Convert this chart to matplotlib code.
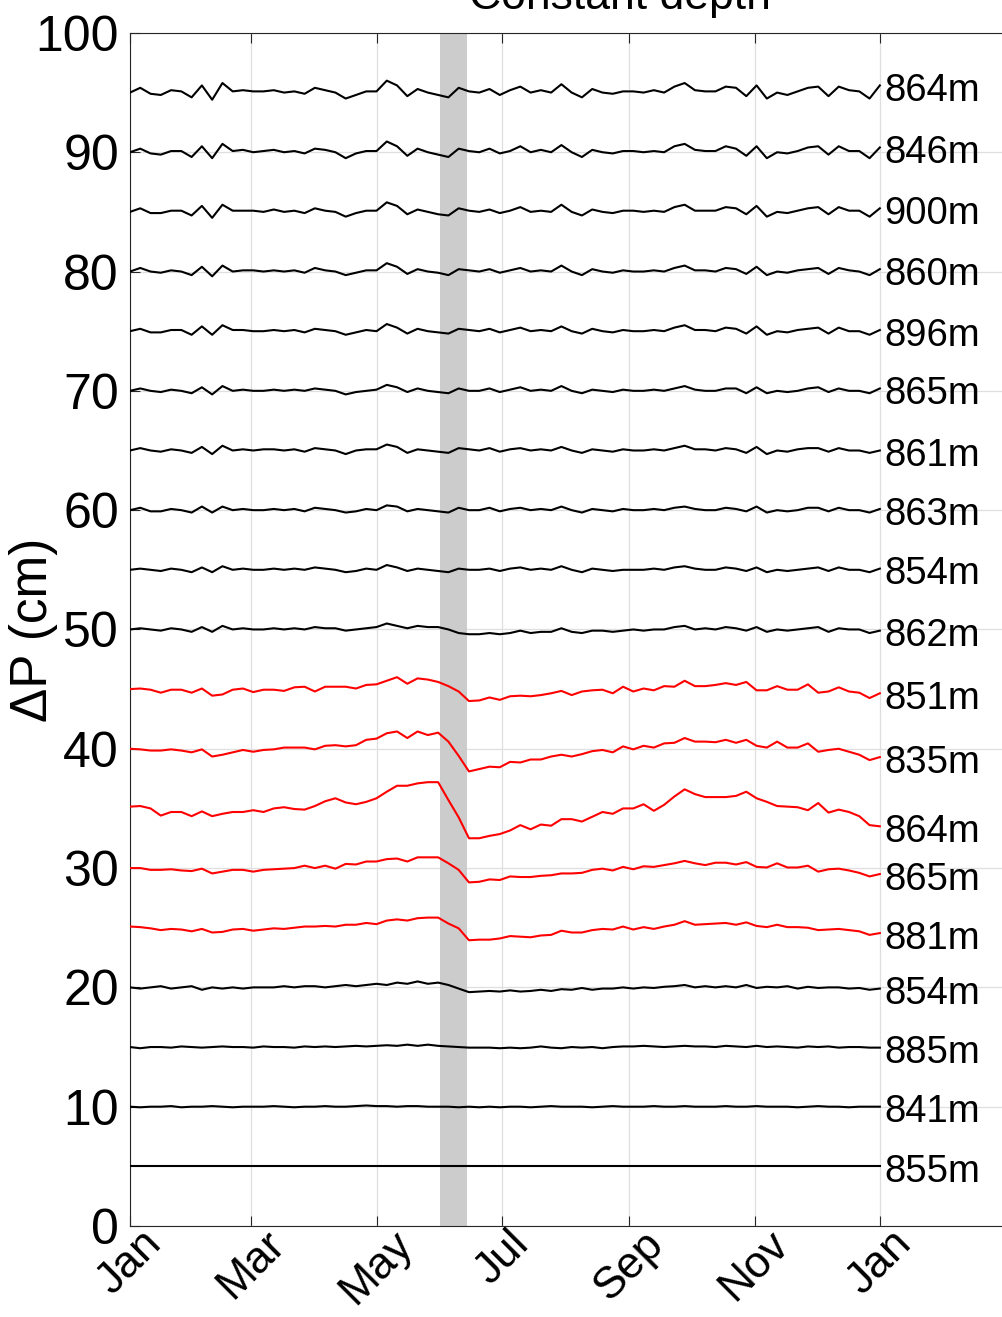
import numpy as np
import matplotlib
matplotlib.use("Agg")
import matplotlib.pyplot as plt
import matplotlib.dates as mdates

plt.rcParams['font.family'] = ['Liberation Sans', 'DejaVu Sans']

# 5-day samples through the year
start = np.datetime64('2015-01-01')
dates = start + np.arange(0, 366, 5)
x_end = start + 477
event_start = np.datetime64('2015-06-01')
event_end = np.datetime64('2015-06-14')

month_ticks = np.array(['2015-01-01', '2015-03-01', '2015-05-01', '2015-07-01',
                        '2015-09-01', '2015-11-01', '2016-01-01'], dtype='datetime64[D]')

# pressure anomaly (cm) for each gauge, before the stacking offset
p864_a = [0.0, 0.4, -0.1, -0.2, 0.2, 0.1, -0.4, 0.6, -0.6, 0.8,
          0.1, 0.2, 0.1, 0.1, 0.2, 0.0, 0.1, -0.1, 0.4, 0.2,
          0.0, -0.5, -0.2, 0.1, 0.1, 1.0, 0.6, -0.3, 0.3, 0.0,
          -0.2, -0.4, 0.4, 0.1, 0.0, 0.3, -0.2, 0.2, 0.5, 0.0,
          0.2, 0.0, 0.7, 0.0, -0.4, 0.3, 0.0, -0.1, 0.1, 0.1,
          0.0, 0.2, 0.0, 0.5, 0.8, 0.2, 0.1, 0.1, 0.5, 0.4,
          -0.3, 0.6, -0.5, 0.0, -0.2, 0.1, 0.4, 0.5, -0.3, 0.5,
          0.2, 0.1, -0.5, 0.6]
p846 = [0.0, 0.3, -0.1, -0.2, 0.1, 0.1, -0.4, 0.5, -0.5, 0.7,
        0.1, 0.2, 0.0, 0.1, 0.2, 0.0, 0.1, -0.1, 0.3, 0.2,
        0.0, -0.5, -0.1, 0.1, 0.1, 0.9, 0.5, -0.3, 0.3, 0.0,
        -0.2, -0.4, 0.3, 0.1, 0.0, 0.3, -0.1, 0.1, 0.5, 0.0,
        0.2, 0.0, 0.6, 0.0, -0.4, 0.2, 0.0, -0.1, 0.1, 0.1,
        0.0, 0.1, 0.0, 0.5, 0.7, 0.2, 0.1, 0.1, 0.5, 0.3,
        -0.3, 0.5, -0.5, 0.0, -0.1, 0.1, 0.4, 0.5, -0.2, 0.5,
        0.1, 0.1, -0.5, 0.4]
p900 = [0.0, 0.3, -0.1, -0.1, 0.1, 0.1, -0.3, 0.5, -0.5, 0.6,
        0.1, 0.1, 0.1, 0.0, 0.2, 0.0, 0.1, -0.1, 0.3, 0.1,
        0.0, -0.4, -0.1, 0.1, 0.1, 0.8, 0.5, -0.2, 0.2, 0.0,
        -0.2, -0.3, 0.3, 0.1, 0.0, 0.2, -0.1, 0.1, 0.4, 0.0,
        0.1, 0.0, 0.6, 0.0, -0.3, 0.2, 0.0, -0.1, 0.1, 0.1,
        0.0, 0.1, 0.0, 0.4, 0.6, 0.1, 0.1, 0.1, 0.4, 0.3,
        -0.2, 0.5, -0.4, 0.0, -0.1, 0.1, 0.3, 0.4, -0.2, 0.4,
        0.1, 0.1, -0.4, 0.3]
p860 = [0.0, 0.3, 0.0, -0.1, 0.1, 0.0, -0.3, 0.4, -0.4, 0.5,
        0.0, 0.1, 0.1, 0.0, 0.1, 0.0, 0.1, -0.1, 0.3, 0.1,
        0.0, -0.3, -0.1, 0.1, 0.1, 0.7, 0.4, -0.2, 0.2, 0.0,
        -0.1, -0.3, 0.2, 0.1, 0.0, 0.2, -0.1, 0.1, 0.3, 0.0,
        0.1, 0.0, 0.5, 0.0, -0.3, 0.2, 0.0, -0.1, 0.1, 0.0,
        0.0, 0.1, 0.0, 0.3, 0.5, 0.1, 0.1, 0.0, 0.3, 0.2,
        -0.2, 0.4, -0.3, 0.0, -0.1, 0.1, 0.2, 0.3, -0.2, 0.3,
        0.1, 0.0, -0.3, 0.2]
p896 = [0.0, 0.2, -0.1, -0.1, 0.1, 0.1, -0.3, 0.4, -0.3, 0.5,
        0.1, 0.1, 0.0, 0.0, 0.1, 0.0, 0.1, -0.1, 0.2, 0.1,
        0.0, -0.3, -0.1, 0.1, 0.0, 0.6, 0.3, -0.2, 0.2, 0.0,
        -0.1, -0.2, 0.2, 0.1, 0.0, 0.2, -0.1, 0.1, 0.3, 0.0,
        0.1, 0.0, 0.4, 0.0, -0.2, 0.2, 0.0, -0.1, 0.1, 0.0,
        0.0, 0.1, 0.0, 0.3, 0.5, 0.1, 0.1, 0.0, 0.3, 0.2,
        -0.2, 0.4, -0.3, 0.0, -0.1, 0.1, 0.2, 0.3, -0.2, 0.3,
        0.0, 0.0, -0.3, 0.1]
p865_a = [0.0, 0.2, 0.0, -0.1, 0.1, 0.0, -0.2, 0.3, -0.3, 0.4,
          0.0, 0.1, 0.0, 0.0, 0.1, 0.0, 0.1, 0.0, 0.2, 0.1,
          0.0, -0.3, -0.1, 0.0, 0.1, 0.5, 0.3, -0.1, 0.2, 0.0,
          -0.1, -0.2, 0.2, 0.0, 0.0, 0.2, -0.1, 0.1, 0.3, 0.0,
          0.1, 0.0, 0.4, 0.0, -0.2, 0.1, 0.0, -0.1, 0.1, 0.0,
          0.0, 0.1, 0.0, 0.2, 0.4, 0.1, 0.0, 0.0, 0.2, 0.2,
          -0.2, 0.3, -0.2, 0.0, -0.1, 0.0, 0.2, 0.3, -0.1, 0.2,
          0.0, 0.0, -0.2, 0.2]
p861 = [0.0, 0.2, 0.0, -0.1, 0.1, 0.0, -0.2, 0.3, -0.3, 0.4,
        0.0, 0.1, 0.0, 0.1, 0.1, 0.0, 0.1, -0.1, 0.2, 0.1,
        0.0, -0.3, 0.0, 0.1, 0.1, 0.5, 0.3, -0.2, 0.1, 0.0,
        -0.1, -0.2, 0.2, 0.1, 0.0, 0.2, -0.1, 0.1, 0.2, 0.0,
        0.1, 0.0, 0.3, 0.0, -0.2, 0.1, 0.0, -0.1, 0.1, 0.0,
        0.0, 0.1, 0.0, 0.2, 0.4, 0.1, 0.1, 0.0, 0.2, 0.1,
        -0.2, 0.3, -0.3, 0.0, -0.1, 0.1, 0.2, 0.2, -0.1, 0.2,
        0.0, 0.0, -0.2, 0.0]
p863 = [0.0, 0.2, -0.1, -0.1, 0.1, 0.0, -0.2, 0.3, -0.2, 0.3,
        0.0, 0.1, 0.0, 0.0, 0.1, 0.0, 0.1, -0.1, 0.2, 0.1,
        0.0, -0.2, -0.1, 0.1, 0.0, 0.4, 0.3, -0.1, 0.1, 0.0,
        -0.1, -0.2, 0.2, 0.0, 0.0, 0.2, -0.1, 0.1, 0.2, 0.0,
        0.1, 0.0, 0.3, 0.0, -0.2, 0.1, 0.0, -0.1, 0.1, 0.0,
        0.0, 0.1, 0.0, 0.2, 0.3, 0.1, 0.0, 0.0, 0.2, 0.1,
        -0.1, 0.3, -0.2, 0.0, -0.1, 0.0, 0.2, 0.2, -0.1, 0.2,
        0.0, 0.0, -0.2, 0.1]
p854_a = [0.0, 0.1, 0.0, -0.1, 0.1, 0.0, -0.2, 0.2, -0.2, 0.3,
          0.0, 0.1, 0.0, 0.0, 0.1, 0.0, 0.1, 0.0, 0.2, 0.1,
          0.0, -0.2, -0.1, 0.1, 0.0, 0.4, 0.2, -0.1, 0.1, 0.0,
          -0.1, -0.2, 0.1, 0.0, 0.0, 0.1, -0.1, 0.1, 0.2, 0.0,
          0.1, 0.0, 0.3, 0.0, -0.2, 0.1, 0.0, -0.1, 0.0, 0.0,
          0.0, 0.1, 0.0, 0.2, 0.3, 0.1, 0.0, 0.0, 0.2, 0.1,
          -0.1, 0.2, -0.2, 0.0, -0.1, 0.0, 0.1, 0.2, -0.1, 0.2,
          0.0, 0.0, -0.2, 0.1]
p862 = [0.0, 0.1, 0.0, -0.1, 0.1, 0.0, -0.2, 0.2, -0.2, 0.3,
        0.0, 0.1, 0.0, 0.0, 0.1, 0.0, 0.1, 0.0, 0.2, 0.1,
        0.1, -0.1, 0.0, 0.1, 0.2, 0.5, 0.3, 0.1, 0.3, 0.2,
        0.2, 0.0, -0.3, -0.4, -0.4, -0.3, -0.4, -0.3, -0.1, -0.3,
        -0.2, -0.2, 0.1, -0.2, -0.3, -0.1, -0.1, -0.2, -0.1, 0.0,
        -0.1, 0.0, 0.0, 0.2, 0.3, 0.0, 0.1, 0.0, 0.2, 0.1,
        -0.1, 0.2, -0.2, 0.0, -0.1, 0.0, 0.1, 0.2, -0.2, 0.1,
        0.0, 0.0, -0.3, -0.1]
p851 = [0.0, 0.05, -0.05, -0.3, -0.05, -0.05, -0.3, 0.05, -0.55, -0.45,
        -0.05, 0.05, -0.25, -0.05, -0.05, -0.15, 0.15, 0.2, -0.2, 0.2,
        0.2, 0.2, 0.05, 0.35, 0.4, 0.7, 1.0, 0.45, 0.9, 0.8,
        0.6, 0.25, -0.2, -1.0, -0.95, -0.7, -0.9, -0.6, -0.55, -0.6,
        -0.5, -0.35, -0.15, -0.5, -0.2, -0.1, -0.05, -0.35, 0.2, -0.2,
        0.05, -0.1, 0.25, 0.2, 0.7, 0.25, 0.25, 0.35, 0.5, 0.35,
        0.6, -0.1, -0.1, 0.25, -0.05, -0.05, 0.4, -0.3, -0.2, 0.15,
        -0.2, -0.3, -0.75, -0.35]
p835 = [0.0, -0.05, -0.15, -0.15, -0.05, -0.15, -0.3, -0.05, -0.65, -0.5,
        -0.3, -0.1, -0.25, -0.1, -0.05, 0.1, 0.1, 0.1, -0.05, 0.25,
        0.3, 0.2, 0.3, 0.75, 0.85, 1.3, 1.45, 0.9, 1.45, 1.15,
        1.35, 0.6, -0.6, -1.9, -1.7, -1.5, -1.55, -1.1, -1.15, -0.9,
        -0.9, -0.65, -0.5, -0.65, -0.45, -0.2, -0.1, -0.3, 0.2, -0.05,
        0.25, 0.1, 0.45, 0.5, 0.9, 0.6, 0.6, 0.55, 0.75, 0.5,
        0.75, 0.25, 0.1, 0.6, 0.1, 0.1, 0.45, -0.25, -0.1, 0.0,
        -0.25, -0.5, -0.95, -0.7]
p864_b = [0.15, 0.2, 0.0, -0.6, -0.3, -0.3, -0.65, -0.25, -0.65, -0.45,
          -0.3, -0.3, -0.15, -0.3, 0.0, 0.1, -0.05, -0.1, 0.2, 0.6,
          0.85, 0.5, 0.35, 0.55, 0.85, 1.4, 1.9, 1.9, 2.1, 2.2,
          2.2, 0.7, -0.75, -2.5, -2.5, -2.3, -2.15, -1.85, -1.4, -1.75,
          -1.35, -1.45, -0.9, -0.9, -1.1, -0.7, -0.3, -0.45, 0.0, 0.0,
          0.35, -0.2, 0.3, 1.0, 1.6, 1.2, 0.95, 0.95, 0.95, 1.05,
          1.4, 0.85, 0.55, 0.2, 0.15, 0.1, -0.15, 0.45, -0.35, -0.1,
          -0.3, -0.65, -1.4, -1.5]
p865_b = [0.0, 0.0, -0.15, -0.15, -0.1, -0.2, -0.25, -0.05, -0.45, -0.3,
          -0.15, -0.15, -0.3, -0.15, -0.1, -0.05, 0.0, 0.2, 0.0, 0.2,
          -0.05, 0.35, 0.3, 0.55, 0.55, 0.75, 0.8, 0.55, 0.9, 0.9,
          0.9, 0.4, -0.15, -1.2, -1.15, -0.95, -1.0, -0.7, -0.75, -0.75,
          -0.65, -0.6, -0.45, -0.45, -0.4, -0.15, -0.05, -0.2, 0.1, -0.1,
          0.15, 0.1, 0.25, 0.4, 0.6, 0.4, 0.25, 0.45, 0.45, 0.3,
          0.5, 0.1, 0.05, 0.4, 0.05, 0.05, 0.2, -0.3, -0.1, -0.05,
          -0.2, -0.4, -0.7, -0.5]
p881 = [0.1, 0.05, -0.05, -0.2, -0.1, -0.15, -0.3, -0.1, -0.4, -0.35,
        -0.15, -0.1, -0.25, -0.15, -0.05, -0.1, 0.0, 0.1, 0.1, 0.15,
        0.1, 0.25, 0.25, 0.4, 0.3, 0.6, 0.7, 0.6, 0.8, 0.85,
        0.85, 0.35, -0.05, -1.05, -1.0, -1.0, -0.9, -0.7, -0.75, -0.8,
        -0.65, -0.6, -0.25, -0.4, -0.4, -0.2, -0.1, -0.15, 0.1, -0.15,
        0.05, -0.1, 0.1, 0.25, 0.55, 0.25, 0.3, 0.35, 0.4, 0.25,
        0.45, 0.15, 0.05, 0.25, 0.05, 0.05, 0.0, -0.2, -0.15, -0.1,
        -0.2, -0.3, -0.6, -0.45]
p854_b = [0.0, -0.1, 0.0, 0.1, -0.1, 0.0, 0.1, -0.2, 0.0, -0.1,
          0.0, -0.1, 0.0, 0.0, 0.0, 0.1, 0.0, 0.1, 0.1, 0.0,
          0.1, 0.2, 0.1, 0.2, 0.3, 0.2, 0.4, 0.3, 0.5, 0.3,
          0.4, 0.2, -0.1, -0.4, -0.35, -0.3, -0.35, -0.25, -0.35, -0.3,
          -0.2, -0.3, -0.15, -0.2, -0.05, -0.2, -0.1, -0.1, 0.0, -0.1,
          0.0, -0.05, 0.05, 0.1, 0.2, 0.0, 0.1, 0.0, 0.1, 0.0,
          0.2, -0.05, 0.05, 0.0, 0.1, -0.1, 0.05, -0.05, 0.0, 0.0,
          -0.1, -0.05, -0.2, -0.1]
p885 = [0.0, -0.1, 0.0, 0.0, -0.05, 0.05, 0.0, -0.05, 0.0, 0.05,
        0.0, 0.0, -0.05, 0.05, 0.0, 0.0, -0.05, 0.05, 0.0, 0.05,
        0.0, 0.05, 0.1, 0.05, 0.1, 0.15, 0.1, 0.2, 0.1, 0.2,
        0.1, 0.05, 0.0, -0.05, -0.05, -0.05, -0.1, -0.05, -0.1, -0.05,
        0.05, -0.05, -0.1, 0.0, -0.05, 0.0, -0.1, 0.0, 0.05, 0.05,
        0.1, 0.05, 0.0, 0.05, 0.1, 0.05, 0.05, 0.0, 0.1, 0.05,
        0.0, 0.1, 0.0, 0.05, 0.0, -0.05, 0.05, 0.0, 0.05, -0.05,
        0.0, 0.0, -0.05, -0.05]
p841 = [0.0, -0.05, 0.0, 0.0, 0.05, -0.05, 0.0, 0.0, 0.05, 0.0,
        -0.05, 0.0, 0.0, 0.0, 0.05, 0.0, -0.05, 0.0, 0.0, 0.05,
        0.0, 0.0, 0.05, 0.1, 0.05, 0.05, 0.0, 0.05, 0.05, 0.0,
        0.0, 0.0, -0.05, 0.0, -0.05, 0.0, -0.05, 0.0, 0.0, -0.05,
        0.0, 0.05, 0.0, 0.0, 0.0, -0.05, 0.0, 0.05, 0.0, 0.0,
        0.0, 0.05, 0.0, 0.0, 0.05, 0.0, 0.0, 0.0, 0.05, 0.0,
        0.0, 0.05, 0.0, 0.0, 0.0, -0.05, 0.0, 0.05, 0.0, 0.0,
        -0.05, 0.0, 0.0, 0.0]
p855 = [0.0] * len(dates)

depth_labels = ['855m', '841m', '885m', '854m', '881m', '865m', '864m', '835m', '851m', '862m',
                '854m', '863m', '861m', '865m', '896m', '860m', '900m', '846m', '864m']
offsets = [5, 10, 15, 20, 25, 30, 35, 40, 45, 50, 55, 60, 65, 70, 75, 80, 85, 90, 95]
anomalies = [p855, p841, p885, p854_b, p881, p865_b, p864_b, p835, p851, p862,
             p854_a, p863, p861, p865_a, p896, p860, p900, p846, p864_a]
red_offsets = [25, 30, 35, 40, 45]

fig = plt.figure(figsize=(10.03, 13.17), dpi=100)
ax = fig.add_axes([0.1296, 0.0691, 0.977, 0.9059])

ax.axvspan(event_start, event_end, color='#cccccc', lw=0, zorder=2)

for off, name, dev in zip(offsets, depth_labels, anomalies):
    y = off + np.asarray(dev)
    col = 'red' if off in red_offsets else 'black'
    ax.plot(dates, y, color=col, lw=1.5, zorder=3)
    ax.annotate(name, (mdates.date2num(dates[-1]), y[-1]), xytext=(3.5, -4),
                textcoords='offset points', fontsize=27.5, ha='left', va='center', zorder=4)

ax.set_xlim(start, x_end)
ax.set_ylim(0, 100)
ax.set_yticks(np.arange(0, 101, 10))
ax.set_xticks(month_ticks)
ax.xaxis.set_major_formatter(mdates.DateFormatter('%b'))

ax.grid(True, color='#dfdfdf', lw=0.9)
ax.tick_params(direction='in', length=7, width=0.8, color='#262626',
               labelsize=36, top=True, right=True)
ax.tick_params(axis='y', pad=8)
ax.tick_params(axis='x', pad=-2, labelsize=32)
plt.setp(ax.get_xticklabels(), rotation=45, ha='center')
for s in ax.spines.values():
    s.set_color('#262626')
    s.set_linewidth(0.8)

ax.set_ylabel('ΔP (cm)', fontsize=37)
ax.yaxis.set_label_coords(-0.0735, 0.5)
ax.set_title('Constant depth', fontsize=32, pad=17)

fig.savefig('out.png', dpi=100)
